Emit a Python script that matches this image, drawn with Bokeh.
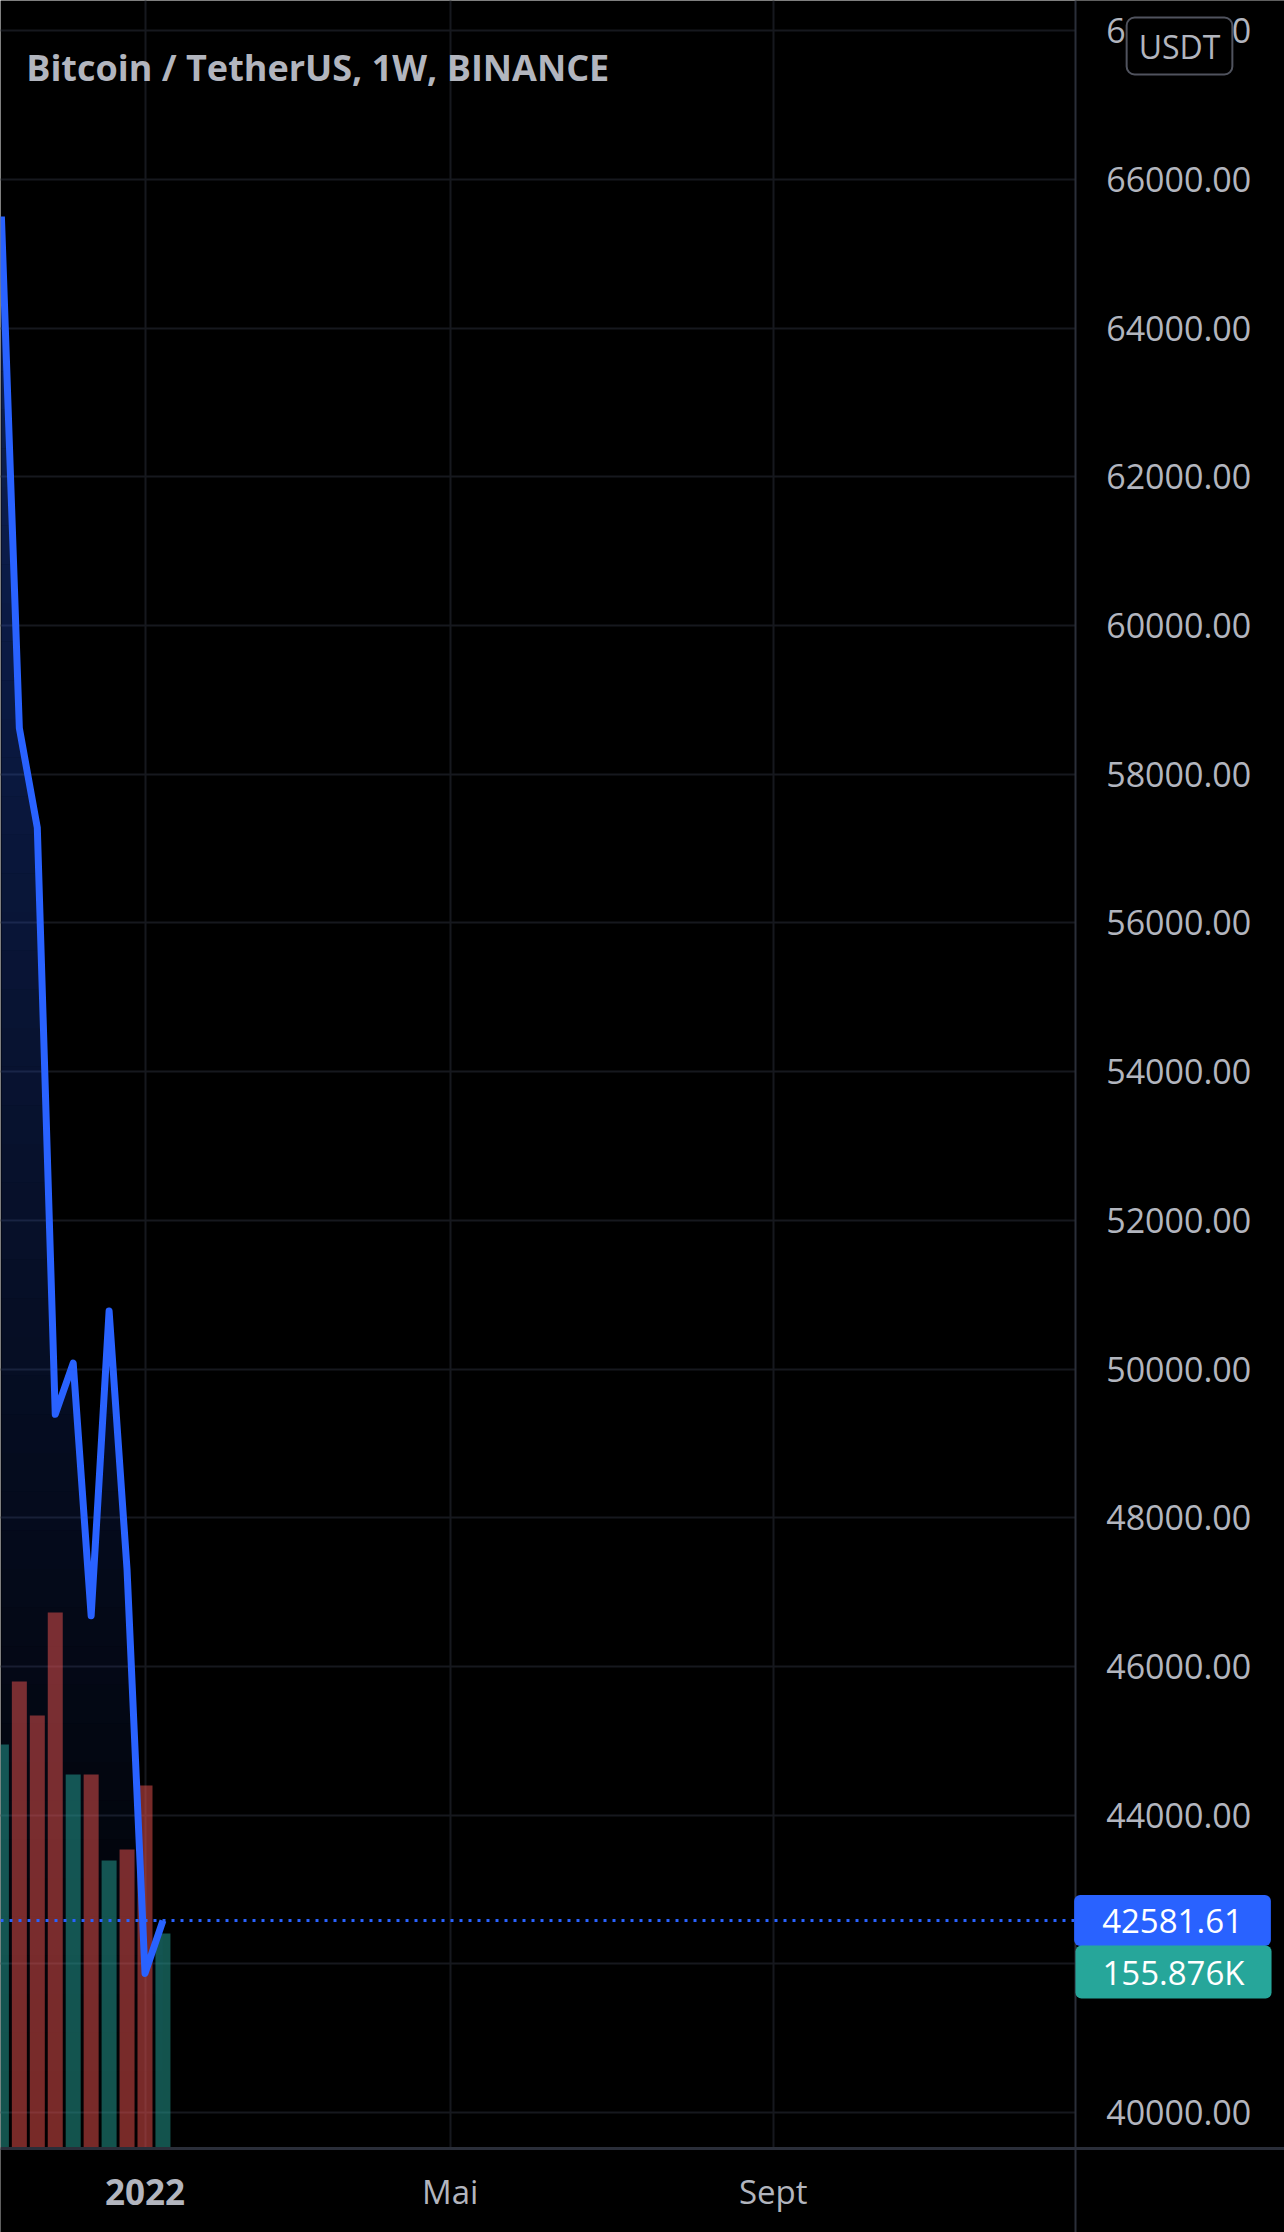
import numpy as np
from bokeh.plotting import figure
from bokeh.models import Range1d, FixedTicker, Label
from bokeh.core.properties import value
from bokeh.embed import file_html
from bokeh.resources import INLINE

# ---------------- data ----------------
week_starts = ["2021-11-08", "2021-11-15", "2021-11-22", "2021-11-29", "2021-12-06",
               "2021-12-13", "2021-12-20", "2021-12-27", "2022-01-03", "2022-01-10"]
close_prices = [65500, 58620, 57280, 49390, 50080, 46680, 50780, 47300, 41870, 42581.61]
volumes = [292900, 338600, 313900, 388600, 271200, 271200, 208800, 216800, 263200, 155876]
directions = ["up", "down", "down", "down", "up", "down", "up", "down", "down", "up"]
price_ticks = list(range(40000, 68001, 2000))
time_tick_dates = ["2022-01-03", "2022-05-02", "2022-09-05"]
time_tick_labels = ["2022", "Mai", "Sept"]
last_price_label = "42581.61"
last_volume_label = "155.876K"
title_text = "Bitcoin / TetherUS, 1W, BINANCE"
currency_text = "USDT"

# ---------------- layout / style ----------------
FONT = "Open Sans"
TXT = "#B2B5BE"
BLUE = "#2962FF"
UP = "#26a69a"
DOWN = "#ef5350"
GRID = "#16181e"
AXIS = "#2a2e39"

W, H = 1284, 2232
X0_PX, PX_PER_WEEK = 144.5, 17.95          # pixel of the 2022-01-03 week, week spacing
Y40_PX, PX_PER_2000 = 2112.0, 148.7        # pixel of 40000, pixels per 2000
AXIS_X_PX, AXIS_Y_PX = 1075.0, 2148.0      # price-scale border, time-scale border
VOL_PER_PX = 725.0


def wx(px):
    return (px - X0_PX) / PX_PER_WEEK


def py(px):
    return 40000 + (Y40_PX - px) / PX_PER_2000 * 2000


origin = np.datetime64("2022-01-03")


def week_index(d):
    return (np.datetime64(d) - origin).astype("timedelta64[D]").astype(int) / 7.0


xw = np.array([week_index(d) for d in week_starts])
yp = np.array(close_prices, dtype=float)
tick_x = [week_index(d) for d in time_tick_dates]

x_lo, x_hi = wx(0), wx(W)
y_hi, y_lo = py(0), py(H)
axis_x, axis_y = wx(AXIS_X_PX), py(AXIS_Y_PX)

p = figure(width=W, height=H, x_range=Range1d(x_lo, x_hi), y_range=Range1d(y_lo, y_hi),
           output_backend="svg", toolbar_location=None, tools="", title=None,
           x_axis_location=None, y_axis_location=None,
           min_border_left=0, min_border_top=0, min_border_right=0, min_border_bottom=0,
           background_fill_color="black", border_fill_color="black",
           outline_line_color=None)
p.extra_y_ranges = {"vol": Range1d(-(H - AXIS_Y_PX) * VOL_PER_PX, AXIS_Y_PX * VOL_PER_PX)}

# grids
p.xgrid.ticker = FixedTicker(ticks=tick_x)
p.ygrid.ticker = FixedTicker(ticks=price_ticks)
for g in (p.xgrid, p.ygrid):
    g.grid_line_color = GRID
    g.grid_line_width = 2

# gradient area under the price line (horizontal bands)
n_bands = 50
edges = np.linspace(axis_y, yp.max(), n_bands + 1)
a_top, a_bot = 0.34, 0.0
for lo, hi in zip(edges[:-1], edges[1:]):
    xs, ys = [xw[0]], [yp[0]]
    for i in range(len(xw) - 1):
        x0, y0, x1, y1 = xw[i], yp[i], xw[i + 1], yp[i + 1]
        cross = []
        for lvl in (lo, hi):
            if (y0 - lvl) * (y1 - lvl) < 0:
                t = (lvl - y0) / (y1 - y0)
                cross.append((x0 + t * (x1 - x0), lvl))
        cross.sort()
        for cx, cy in cross:
            xs.append(cx)
            ys.append(cy)
        xs.append(x1)
        ys.append(y1)
    top = np.clip(np.array(ys), lo, hi)
    frac = ((lo + hi) / 2 - axis_y) / (yp.max() - axis_y)
    alpha = a_bot + (a_top - a_bot) * frac
    p.varea(x=xs, y1=lo, y2=top, fill_color=BLUE, fill_alpha=alpha)

# volume bars
colors = [UP if d == "up" else DOWN for d in directions]
p.vbar(x=xw, top=volumes, bottom=0, width=0.836, y_range_name="vol",
       fill_color=colors, fill_alpha=0.5, line_color=None)

# price line
p.line(xw, yp, line_color=BLUE, line_width=7, line_join="round")

# last price dotted line
p.hspan(y=[close_prices[-1]], line_color=BLUE, line_width=3, line_dash="3 6")

# price scale and time scale panels (black) and their borders
p.quad(left=axis_x, right=x_hi, bottom=y_lo, top=y_hi, fill_color="black", line_color=None)
p.quad(left=x_lo, right=x_hi, bottom=y_lo, top=axis_y, fill_color="black", line_color=None)
p.vspan(x=[axis_x], line_color=AXIS, line_width=2)
p.hspan(y=[axis_y], line_color=AXIS, line_width=3)

# price scale labels
p.text(x=[wx(1105.7)] * len(price_ticks), y=price_ticks,
       text=["%.2f" % v for v in price_ticks], text_font=value(FONT),
       text_font_size="34px", text_color=TXT, text_align="left", text_baseline="middle")

# time scale labels
for tx, lab in zip(tick_x, time_tick_labels):
    bold = lab == "2022"
    p.add_layout(Label(x=tx, y=H - 2191, x_units="data", y_units="screen", text=lab,
                       text_font=FONT, text_font_size="35px" if bold else "33px",
                       text_font_style="bold" if bold else "normal",
                       text_color=TXT, text_align="center", text_baseline="middle"))

# title
p.add_layout(Label(x=25.7, y=H - 66.7, x_units="screen", y_units="screen",
                   text=title_text, text_font=FONT, text_font_style="bold",
                   text_font_size="36px", text_color=TXT, text_align="left",
                   text_baseline="alphabetic"))

# currency box
p.add_layout(Label(x=1179, y=H - 45.5, x_units="screen", y_units="screen",
                   text=currency_text, text_font=FONT, text_font_size="32px",
                   text_color=TXT, text_align="center", text_baseline="middle",
                   background_fill_color="black", border_line_color="#50535e",
                   border_line_width=2, border_radius=8,
                   padding=dict(left=12, right=12, top=7, bottom=7)))

# last price / last volume boxes
p.add_layout(Label(x=1172, y=H - 1920, x_units="screen", y_units="screen",
                   text=last_price_label, text_font=FONT, text_font_size="33px",
                   text_color="white", text_align="center", text_baseline="middle",
                   background_fill_color=BLUE, border_radius=6,
                   padding=dict(left=28, right=28, top=14, bottom=13)))
p.add_layout(Label(x=1173, y=H - 1971.5, x_units="screen", y_units="screen",
                   text=last_volume_label, text_font=FONT, text_font_size="33px",
                   text_color="white", text_align="center", text_baseline="middle",
                   background_fill_color=UP, border_radius=6,
                   padding=dict(left=27, right=27, top=4, bottom=4)))

open("out.html", "w").write(file_html(p, INLINE))
